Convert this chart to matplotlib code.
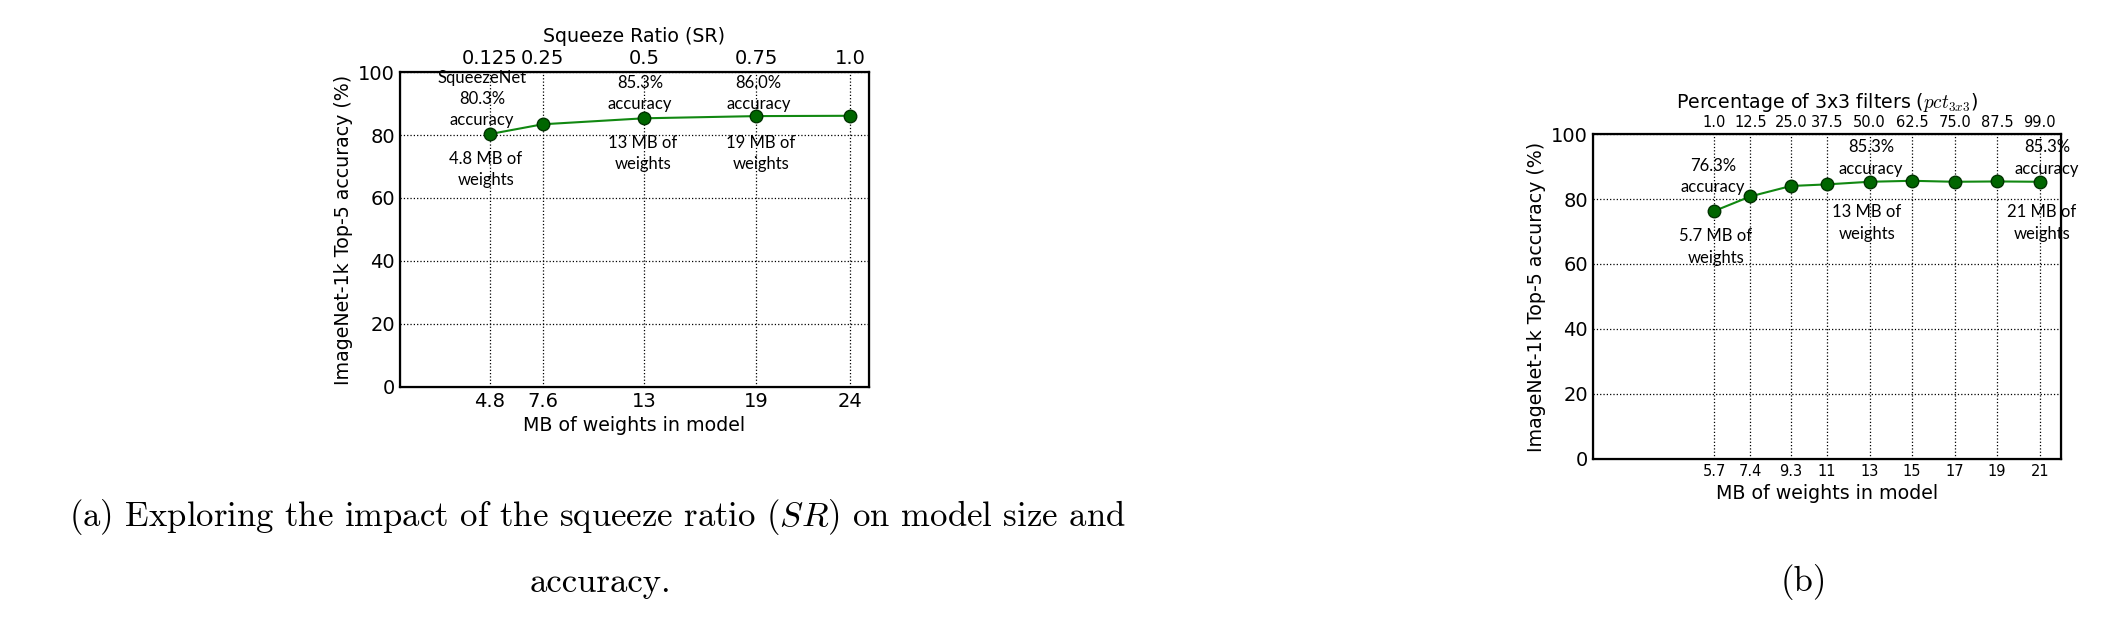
import matplotlib
matplotlib.use("Agg")
import matplotlib.pyplot as plt

plt.rcParams['mathtext.fontset'] = 'cm'

# (a) squeeze ratio sweep
sr_mb = [4.8, 7.6, 13, 19, 24]
sr_acc = [80.3, 83.4, 85.3, 86.0, 86.1]
sr_labels = ['0.125', '0.25', '0.5', '0.75', '1.0']

# (b) percentage of 3x3 filters sweep
pct_mb = [5.7, 7.4, 9.3, 11, 13, 15, 17, 19, 21]
pct_acc = [76.3, 80.8, 84.0, 84.5, 85.3, 85.6, 85.3, 85.4, 85.3]
pct_labels = ['1.0', '12.5', '25.0', '37.5', '50.0', '62.5', '75.0', '87.5', '99.0']
pct_mb_labels = ['5.7', '7.4', '9.3', '11', '13', '15', '17', '19', '21']

# annotations: (text, x, y) in data coords
notes_a = [("SqueezeNet\n80.3%\naccuracy", 4.37, 91.4),
           ("4.8 MB of\nweights", 4.58, 69.0),
           ("85.3%\naccuracy", 12.8, 93.2),
           ("13 MB of\nweights", 12.95, 74.1),
           ("86.0%\naccuracy", 19.1, 93.2),
           ("19 MB of\nweights", 19.25, 74.1)]
notes_b = [("76.3%\naccuracy", 5.64, 86.9),
           ("5.7 MB of\nweights", 5.78, 65.2),
           ("85.3%\naccuracy", 13.07, 92.6),
           ("13 MB of\nweights", 12.88, 72.6),
           ("85.3%\naccuracy", 21.35, 92.6),
           ("21 MB of\nweights", 21.1, 72.6)]

LBL = 13.7
NOTE_FONT = 'Lato'


def setup(ax, xmax, xticks, xticklabels, top_ticklabels, top_label, xtick_size):
    ax.set_xlim(0, xmax)
    ax.set_ylim(0, 100)
    ax.set_xticks(xticks)
    ax.set_xticklabels(xticklabels, fontsize=xtick_size)
    ax.set_yticks([0, 20, 40, 60, 80, 100])
    ax.tick_params(axis='y', labelsize=14)
    ax.tick_params(direction='in', length=0)
    ax.grid(True, linestyle=':', color='black', linewidth=0.9)
    for s in ax.spines.values():
        s.set_linewidth(1.6)
    ax.set_xlabel("MB of weights in model", fontsize=LBL, labelpad=4)
    ax.set_ylabel("ImageNet-1k Top-5 accuracy (%)", fontsize=LBL)
    top = ax.twiny()
    top.set_xlim(ax.get_xlim())
    top.set_xticks(xticks)
    top.set_xticklabels(top_ticklabels)
    top.tick_params(direction='in', length=0, pad=3)
    top.set_xlabel(top_label, fontsize=LBL, labelpad=5)
    return top


fig = plt.figure(figsize=(21.05, 6.2), dpi=100)

ax1 = fig.add_axes([0.19002, 0.37581, 0.22280, 0.50806])
top1 = setup(ax1, 25, sr_mb, [str(v) for v in sr_mb], sr_labels,
             "Squeeze Ratio (SR)", 14)
top1.tick_params(labelsize=14)
ax1.plot(sr_mb, sr_acc, '-o', color='#118811', lw=1.5, ms=9,
         mfc='#006600', mec='#003300', mew=1.0, zorder=5)
for t, x, y in notes_a:
    ax1.text(x, y, t, ha='center', va='center', fontsize=12,
             family=NOTE_FONT, linespacing=1.4)

ax2 = fig.add_axes([0.75677, 0.25968, 0.22233, 0.52419])
top2 = setup(ax2, 22, pct_mb, pct_mb_labels, pct_labels,
             r"Percentage of 3x3 filters ($pct_{3x3}$)", 10.5)
top2.tick_params(labelsize=10.5)
ax2.plot(pct_mb, pct_acc, '-o', color='#118811', lw=1.5, ms=9,
         mfc='#006600', mec='#003300', mew=1.0, zorder=5)
for t, x, y in notes_b:
    ax2.text(x, y, t, ha='center', va='center', fontsize=12,
             family=NOTE_FONT, linespacing=1.4)

# captions
fig.text(597 / 2105, 1 - 517 / 620,
         r"(a) Exploring the impact of the squeeze ratio ($SR$) on model size and",
         ha='center', va='center', fontsize=25, family='cmr10')
fig.text(600 / 2105, 1 - 583 / 620, "accuracy.",
         ha='center', va='center', fontsize=25, family='cmr10')
fig.text(1804 / 2105, 1 - 582 / 620, "(b)",
         ha='center', va='center', fontsize=25, family='cmr10')

fig.savefig("out.png", dpi=100, facecolor='white')
